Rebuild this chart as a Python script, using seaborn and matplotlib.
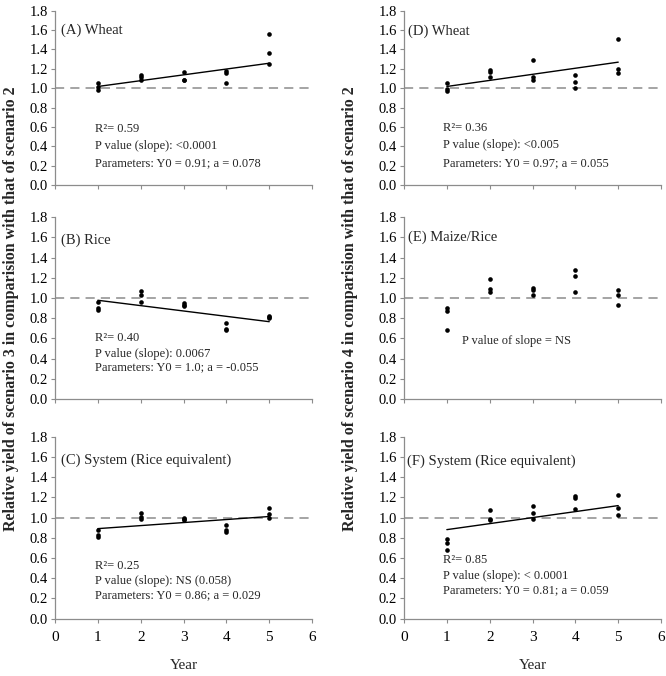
import numpy as np
import pandas as pd
import matplotlib
matplotlib.use("Agg")
import matplotlib.pyplot as plt
import seaborn as sns

sns.set_theme(style="white")
plt.rcParams['font.family'] = ['Liberation Serif', 'DejaVu Serif']

# ---------------- data ----------------
years = [1, 1, 1, 2, 2, 2, 3, 3, 3, 4, 4, 4, 5, 5, 5]

wheat_s3 = [1.05, 1.01, 0.98, 1.14, 1.12, 1.08, 1.17, 1.08, 1.08, 1.18, 1.16, 1.05, 1.56, 1.36, 1.25]
rice_s3 = [0.96, 0.90, 0.88, 1.07, 1.03, 0.96, 0.95, 0.93, 0.92, 0.75, 0.69, 0.68, 0.82, 0.81, 0.80]
system_s3 = [0.88, 0.83, 0.81, 1.04, 1.01, 0.99, 1.00, 0.99, 0.98, 0.93, 0.875, 0.86, 1.09, 1.03, 1.00]
wheat_s4 = [1.05, 0.99, 0.97, 1.19, 1.17, 1.11, 1.29, 1.11, 1.08, 1.14, 1.06, 1.00, 1.51, 1.20, 1.16]
maize_s4 = [0.90, 0.87, 0.68, 1.19, 1.09, 1.06, 1.10, 1.08, 1.03, 1.28, 1.22, 1.06, 1.08, 1.03, 0.93]
system_s4 = [0.79, 0.75, 0.68, 1.07, 0.99, 0.98, 1.11, 1.04, 0.99, 1.21, 1.19, 1.08, 1.22, 1.09, 1.02]

fit_x = [1, 5]
fit_wheat_s3 = [1.017, 1.257]
fit_rice_s3 = [0.977, 0.765]
fit_system_s3 = [0.89, 1.01]
fit_wheat_s4 = [1.017, 1.268]
fit_system_s4 = [0.88, 1.118]

titles = ["(A) Wheat", "(B) Rice", "(C) System (Rice equivalent)",
          "(D) Wheat", "(E) Maize/Rice", "(F) System (Rice equivalent)"]
stats_A = ["R\u00b2= 0.59", "P value (slope): <0.0001", "Parameters: Y0 = 0.91; a = 0.078"]
stats_B = ["R\u00b2= 0.40", "P value (slope): 0.0067", "Parameters: Y0 = 1.0; a = -0.055"]
stats_C = ["R\u00b2= 0.25", "P value (slope): NS (0.058)", "Parameters: Y0 = 0.86; a = 0.029"]
stats_D = ["R\u00b2= 0.36", "P value (slope): <0.005", "Parameters: Y0 = 0.97; a = 0.055"]
stats_E = ["P value of slope = NS"]
stats_F = ["R\u00b2= 0.85", "P value (slope): < 0.0001", "Parameters: Y0 = 0.81; a = 0.059"]

ylabel_left = "Relative yield of scenario 3 in comparision with that of scenario 2"
ylabel_right = "Relative yield of scenario 4 in comparision with that of scenario 2"
xlabel = "Year"
x_ticks = [0, 1, 2, 3, 4, 5, 6]
y_ticks = [0.0, 0.2, 0.4, 0.6, 0.8, 1.0, 1.2, 1.4, 1.6, 1.8]

# ---------------- figure ----------------
fig = plt.figure(figsize=(6.66, 6.76), dpi=100)
lefts = [0.0826, 0.6066]
W = 0.386
bottoms = [0.7263, 0.4098, 0.0850]
heights = [0.258, 0.269, 0.269]

panels = [
    (0, 0, wheat_s3, fit_wheat_s3, stats_A, (0.15, 1.60), (0.93, [0.58, 0.40, 0.23])),
    (0, 1, rice_s3, fit_rice_s3, stats_B, (0.15, 1.57), (0.93, [0.60, 0.45, 0.31])),
    (0, 2, system_s3, fit_system_s3, stats_C, (0.13, 1.57), (0.93, [0.525, 0.37, 0.23])),
    (1, 0, wheat_s4, fit_wheat_s4, stats_D, (0.10, 1.59), (0.90, [0.586, 0.41, 0.23])),
    (1, 1, maize_s4, None, stats_E, (0.10, 1.60), (1.35, [0.575])),
    (1, 2, system_s4, fit_system_s4, stats_F, (0.07, 1.56), (0.90, [0.576, 0.42, 0.28])),
]

spine_col = "#8c8c8c"
for i, (col, row, vals, fit, stats, tpos, spos) in enumerate(panels):
    ax = fig.add_axes([lefts[col], bottoms[row], W, heights[row]])
    df = pd.DataFrame({"Year": years, "Value": vals})
    ax.axhline(1.0, color="#8c8c8c", lw=1.1, ls=(0, (6, 4)), zorder=1)
    sns.scatterplot(data=df, x="Year", y="Value", ax=ax, color="black", s=11,
                    edgecolor="black", linewidth=0, zorder=3)
    if fit is not None:
        sns.lineplot(x=fit_x, y=fit, ax=ax, color="black", lw=1.0, zorder=2)
    ax.set_xlim(0, 6)
    ax.set_ylim(0, 1.8)
    ax.set_xticks(x_ticks)
    ax.set_yticks(y_ticks)
    ax.set_yticklabels([f"{v:.1f}" for v in y_ticks], fontsize=10.5)
    if row == 2:
        ax.set_xticklabels([str(t) for t in x_ticks], fontsize=11)
        ax.set_xlabel(xlabel, fontsize=11, labelpad=11)
    else:
        ax.set_xticklabels([])
        ax.set_xlabel("")
    ax.set_ylabel("")
    for s in ["top", "right"]:
        ax.spines[s].set_visible(False)
    for s in ["left", "bottom"]:
        ax.spines[s].set_color(spine_col)
        ax.spines[s].set_linewidth(0.9)
    ax.tick_params(axis="both", which="major", direction="out", length=3,
                   width=0.8, color=spine_col, labelcolor="black", pad=2,
                   bottom=True, left=True)
    ax.tick_params(axis="x", pad=6)
    ax.patch.set_alpha(0)
    ax.text(tpos[0], tpos[1], titles[i], fontsize=10.5, va="center", ha="left")
    for line, yy in zip(stats, spos[1]):
        ax.text(spos[0], yy, line, fontsize=9, va="center", ha="left")

fig.text(0.017, 0.544, ylabel_left, rotation=90, va="center", ha="center",
         fontsize=11.5, fontweight="bold")
fig.text(0.526, 0.544, ylabel_right, rotation=90, va="center", ha="center",
         fontsize=11.5, fontweight="bold")

fig.savefig("out.png", dpi=100)
